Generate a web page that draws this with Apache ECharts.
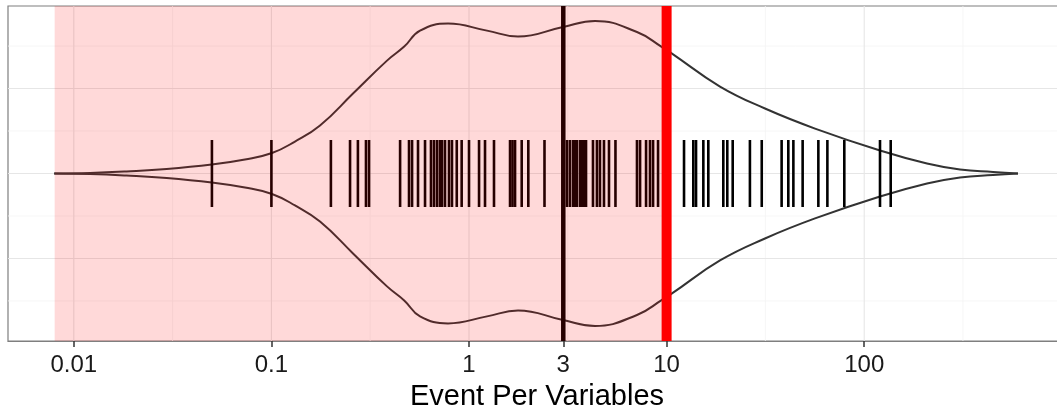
<!DOCTYPE html>
<html>
<head>
<meta charset="utf-8">
<script src="https://cdn.jsdelivr.net/npm/echarts@6/dist/echarts.min.js"></script>
<style>
html,body{margin:0;padding:0;background:#fff;}
#chart{width:1057px;height:411px;}
</style>
</head>
<body>
<div id="chart"></div>
<script>
// ---- data ----
var tickValues = [0.01, 0.1, 1, 3, 10, 100];
var tickLabels = ["0.01", "0.1", "1", "3", "10", "100"];
var majorBreaksX = [0.01, 0.1, 1, 10, 100, 1000];
var minorBreaksX = [0.00316, 0.0316, 0.316, 3.16, 31.6, 316];
var majorBreaksY = [-1, 0, 1];
var minorBreaksY = [-1.5, -0.5, 0.5, 1.5];

// Event per variable values (rug marks)
var epv = [0.05, 0.1, 0.2, 0.25, 0.274, 0.301, 0.312, 0.448, 0.497, 0.515, 0.552, 0.599,
  0.642, 0.665, 0.689, 0.713, 0.73, 0.756, 0.792, 0.82, 0.867, 0.918, 1.0, 1.124, 1.205,
  1.338, 1.613, 1.66, 1.71, 1.848, 1.996, 2.41, 3.13, 3.24, 3.36, 3.44, 3.52, 3.65, 3.73,
  3.82, 3.91, 4.24, 4.44, 4.6, 4.82, 5.11, 5.51, 7.08, 7.34, 7.87, 8.24, 8.54, 9.05,
  12.25, 13.65, 14.09, 15.34, 16.26, 19.36, 20.28, 21.6, 26.4, 30.3, 38.2, 41.3, 43.8,
  48.8, 58.6, 65.1, 79.3, 120.2, 136.2];

// Violin outline: positions and half-widths (density)
var violinX = [0.00796, 0.0121, 0.0185, 0.0295, 0.0499, 0.0735, 0.1007, 0.1316, 0.1762,
  0.2588, 0.3846, 0.47, 0.565, 0.783, 1.233, 1.77, 2.99, 4.343, 7.08, 9.478, 10.65, 18.63,
  31.47, 56.37, 120.2, 207.9, 305.5, 448.7, 600];
var violinHalfWidth = [0, 0.006, 0.024, 0.053, 0.106, 0.165, 0.241, 0.376, 0.565, 0.941,
  1.329, 1.494, 1.682, 1.765, 1.682, 1.612, 1.725, 1.795, 1.666, 1.489, 1.412, 1.024, 0.765,
  0.529, 0.271, 0.118, 0.047, 0.018, 0];

var medianLine = [3];
var thresholdLine = [10];
var shadedRange = [0.008, 10];

var xMin = 0.004645, xMax = 1050;
var yMin = -1.972, yMax = 1.972;

// ---- build ----
var FONT = "'Liberation Sans', Arial, Helvetica, sans-serif";

function vline(color, width) {
  return function (params, api) {
    var cs = params.coordSys;
    var x = api.coord([api.value(0), 0])[0];
    return {type: 'line', shape: {x1: x, y1: cs.y, x2: x, y2: cs.y + cs.height},
      style: {stroke: color, lineWidth: width}};
  };
}
function hline(color, width) {
  return function (params, api) {
    var cs = params.coordSys;
    var y = api.coord([1, api.value(1)])[1];
    return {type: 'line', shape: {x1: cs.x, y1: y, x2: cs.x + cs.width, y2: y},
      style: {stroke: color, lineWidth: width}};
  };
}

var upper = violinX.map(function (v, i) { return [v, violinHalfWidth[i]]; });
var lower = violinX.map(function (v, i) { return [v, -violinHalfWidth[i]]; });

var option = {
  animation: false,
  backgroundColor: '#ffffff',
  grid: {left: 8, top: 6, width: 1058, height: 335, show: true,
    borderColor: '#7f7f7f', borderWidth: 1.2, backgroundColor: 'transparent',
    containLabel: false, outerBoundsMode: 'none'},
  xAxis: {
    type: 'log', logBase: 10, min: xMin, max: xMax, position: 'bottom',
    axisLine: {show: true, onZero: false, lineStyle: {color: '#7f7f7f', width: 1.2}},
    splitLine: {show: false},
    minorSplitLine: {show: false},
    axisTick: {show: true, inside: false, customValues: tickValues, length: 6,
      lineStyle: {color: '#333333', width: 1.5}},
    axisLabel: {show: true, customValues: tickValues, margin: 12,
      fontSize: 24, fontFamily: FONT, color: '#1a1a1a',
      formatter: function (v) {
        for (var i = 0; i < tickValues.length; i++) {
          if (Math.abs(Math.log10(v) - Math.log10(tickValues[i])) < 1e-6) return tickLabels[i];
        }
        return '';
      }},
    name: 'Event Per Variables', nameLocation: 'middle', nameGap: 41,
    nameTextStyle: {fontSize: 29, fontFamily: FONT, color: '#000000'}
  },
  yAxis: {
    type: 'value', min: yMin, max: yMax, show: false,
    axisLine: {onZero: false},
    splitLine: {show: false}
  },
  series: [
    {type: 'custom', z: 0, silent: true, clip: true, renderItem: vline('#f4f4f4', 0.8),
      data: minorBreaksX.map(function (v) { return [v, 0]; }), encode: {x: 0, y: 1}},
    {type: 'custom', z: 0, silent: true, clip: true, renderItem: hline('#f4f4f4', 0.8),
      data: minorBreaksY.map(function (v) { return [1, v]; }), encode: {x: 0, y: 1}},
    {type: 'custom', z: 0, silent: true, clip: true, renderItem: vline('#e6e6e6', 1.1),
      data: majorBreaksX.map(function (v) { return [v, 0]; }), encode: {x: 0, y: 1}},
    {type: 'custom', z: 0, silent: true, clip: true, renderItem: hline('#e6e6e6', 1.1),
      data: majorBreaksY.map(function (v) { return [1, v]; }), encode: {x: 0, y: 1}},
    {type: 'line', z: 2, silent: true, data: upper, smooth: 0.45,
      showSymbol: false, symbol: 'none', lineStyle: {color: '#333333', width: 2}},
    {type: 'line', z: 2, silent: true, data: lower, smooth: 0.45,
      showSymbol: false, symbol: 'none', lineStyle: {color: '#333333', width: 2}},
    {type: 'custom', z: 3, silent: true, clip: true,
      renderItem: function (params, api) {
        var p = api.coord([api.value(0), api.value(1)]);
        return {type: 'line', shape: {x1: p[0], y1: p[1] - 33.5, x2: p[0], y2: p[1] + 33.5},
          style: {stroke: '#000000', lineWidth: 2.6}};
      },
      data: epv.map(function (v) { return [v, 0]; }), encode: {x: 0, y: 1}},
    {type: 'custom', z: 4, silent: true, clip: true, renderItem: vline('#000000', 4.5),
      data: medianLine.map(function (v) { return [v, 0]; }), encode: {x: 0, y: 1}},
    {type: 'custom', z: 5, silent: true, clip: true,
      renderItem: function (params, api) {
        var cs = params.coordSys;
        var x1 = api.coord([api.value(0), 0])[0];
        var x2 = api.coord([api.value(1), 0])[0];
        return {type: 'rect', shape: {x: x1, y: cs.y, width: x2 - x1, height: cs.height},
          style: {fill: 'rgba(255,0,0,0.15)'}};
      },
      data: [[shadedRange[0], shadedRange[1], 0]], encode: {x: [0, 1], y: 2}},
    {type: 'custom', z: 6, silent: true, clip: true, renderItem: vline('#ff0000', 10),
      data: thresholdLine.map(function (v) { return [v, 0]; }), encode: {x: 0, y: 1}}
  ]
};

var chart = echarts.init(document.getElementById('chart'), null, {renderer: 'canvas'});
chart.setOption(option);
</script>
</body>
</html>
